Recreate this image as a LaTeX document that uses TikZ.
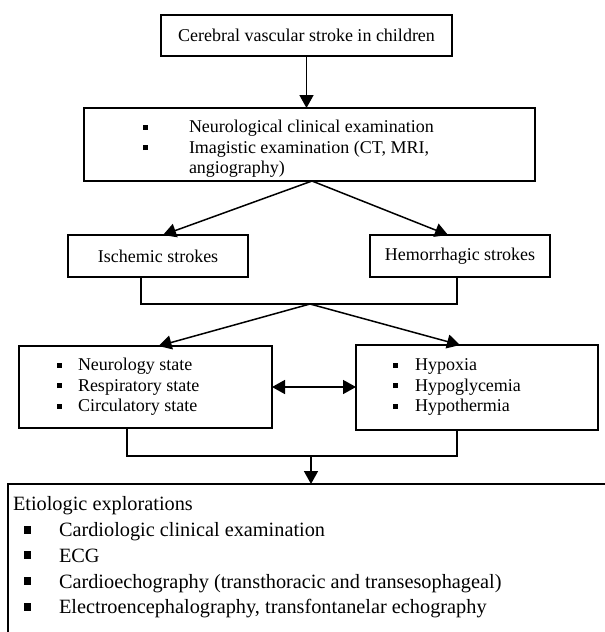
\documentclass[tikz,border=0pt]{standalone}
\usepackage{fontspec}
\setmainfont{Liberation Serif}
\usetikzlibrary{arrows.meta,calc}
\newcommand\sqbul{\rule[3pt]{5pt}{5pt}}
\newcommand\bigbul{\rule[3pt]{7pt}{8pt}}
\begin{document}
\begin{tikzpicture}[x=1pt,y=-1pt,
  box/.style={draw,line width=1.5pt,inner sep=0pt,outer sep=0pt},
  txt/.style={inner sep=0pt,outer sep=0pt,font=\fontsize{18}{20.5}\selectfont},
  btxt/.style={inner sep=0pt,outer sep=0pt,font=\fontsize{20.3}{25.7}\selectfont},
  arr/.style={line width=1.5pt,-{Triangle[length=13pt,width=14pt]}},
  darr/.style={line width=1.5pt,{Triangle[length=13pt,width=14pt]}-{Triangle[length=13pt,width=14pt]}},
  con/.style={line width=1.5pt}]
\clip (0,0) rectangle (605,632);
\fill[white] (0,0) rectangle (605,632);
% boxes
\node[box,txt,minimum width=291pt,minimum height=41pt] (top) at (306.5,35.5) {Cerebral vascular stroke in children};
\node[box,minimum width=451pt,minimum height=73pt] (exam) at (309.5,144.5) {};
\node[txt,anchor=west] (examt) at (142.5,149) {\begin{tabular}{@{}p{46.5pt}@{}l@{}}
\sqbul & Neurological clinical examination\\
\sqbul & Imagistic examination (CT, MRI,\\
 & angiography)\end{tabular}};
\node[box,txt,minimum width=180pt,minimum height=42pt] (isch) at (158,256) {Ischemic strokes};
\node[box,txt,minimum width=180pt,minimum height=42pt] (hem) at (460,256) {Hemorrhagic strokes};
\node[box,minimum width=253pt,minimum height=82pt] (lb) at (145.5,387) {};
\node[txt,anchor=west] (lbt) at (56.5,387) {\begin{tabular}{@{}p{21.5pt}@{}l@{}}
\sqbul & Neurology state\\
\sqbul & Respiratory state\\
\sqbul & Circulatory state\end{tabular}};
\node[box,minimum width=242pt,minimum height=85pt] (rb) at (477,387.5) {};
\node[txt,anchor=west] (rbt) at (392.5,387) {\begin{tabular}{@{}p{22.5pt}@{}l@{}}
\sqbul & Hypoxia\\
\sqbul & Hypoglycemia\\
\sqbul & Hypothermia\end{tabular}};
\node[box,anchor=north west,minimum width=620pt,minimum height=180pt] (eb) at (8,484) {};
\node[btxt,anchor=north west] (ebt) at (13,493) {\begin{tabular}{@{}p{46pt}@{}l@{}}
\multicolumn{2}{@{}l@{}}{Etiologic explorations}\\
\hspace*{10.5pt}\bigbul & Cardiologic clinical examination\\
\hspace*{10.5pt}\bigbul & ECG\\
\hspace*{10.5pt}\bigbul & Cardioechography (transthoracic and transesophageal)\\
\hspace*{10.5pt}\bigbul & Electroencephalography, transfontanelar echography\end{tabular}};
% connectors
\draw[arr] (top.south) -- (top.south |- exam.north);
\coordinate (e1) at ([xshift=2.5pt]exam.south);
\draw[arr] (e1) -- ([xshift=5pt]isch.north);
\draw[arr] (e1) -- ([xshift=-12pt]hem.north);
\coordinate (j1) at (310,304);
\draw[con] ([xshift=-17pt]isch.south) |- (j1) -| ([xshift=-3pt]hem.south);
\draw[arr] (j1) -- ([xshift=13pt]lb.north);
\draw[arr] (j1) -- ([xshift=-17pt]rb.north);
\draw[darr] (lb.east) -- (lb.east -| rb.west);
\coordinate (j2) at (311,456);
\draw[con] ([xshift=-18.5pt]lb.south) |- (j2) -| ([xshift=-20pt]rb.south);
\draw[arr] (j2) -- (j2 |- eb.north);
\end{tikzpicture}
\end{document}
